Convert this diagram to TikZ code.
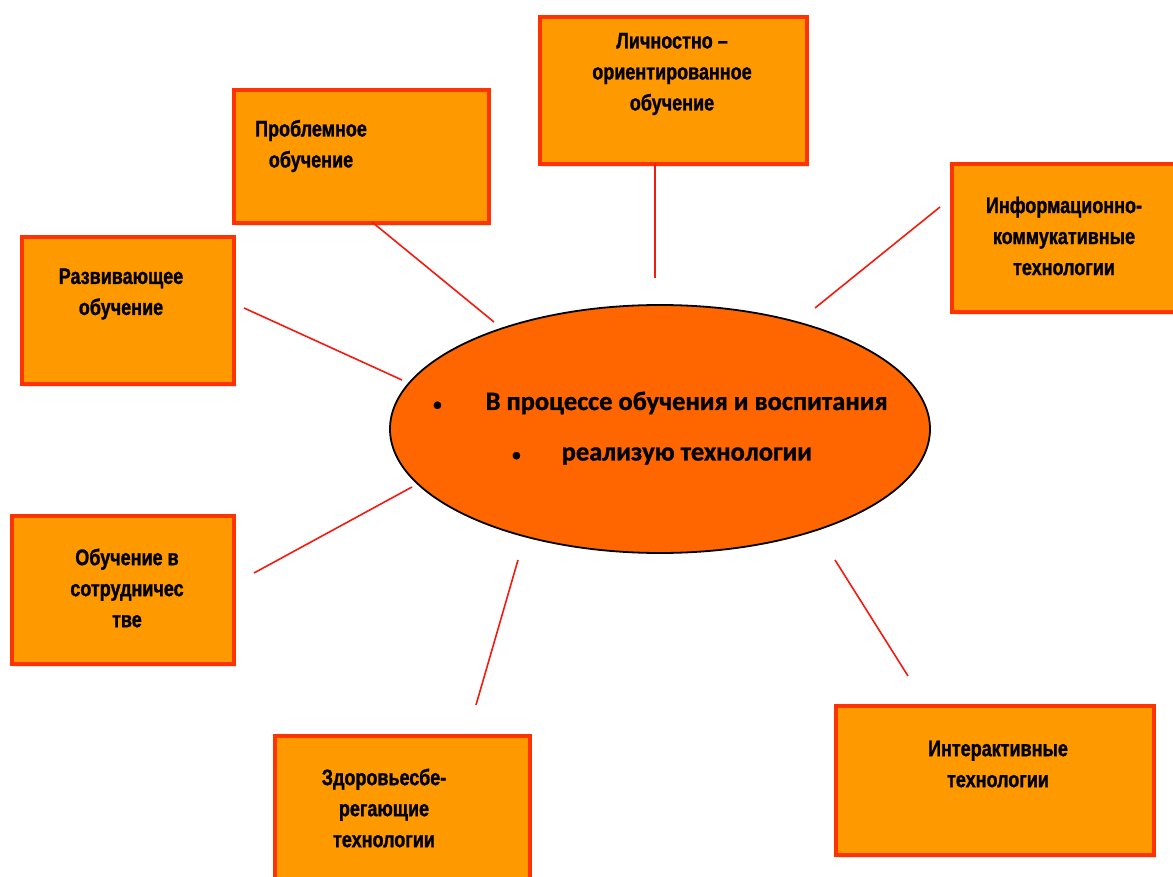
\documentclass[tikz,border=0pt]{standalone}
\usepackage{fontspec}
\usetikzlibrary{shapes.geometric,shadows}
\newfontfamily\boxfont[FakeStretch=0.8, BoldFeatures={FakeBold=1.2}]{Liberation Sans}
\newfontfamily\ellfont[BoldFeatures={FakeBold=1}]{Carlito}
\definecolor{boxfill}{HTML}{FF9900}
\definecolor{boxline}{HTML}{FF3300}
\definecolor{ellfill}{HTML}{FF6600}
\definecolor{conn}{HTML}{F41A10}
\tikzset{
  box/.style={draw=boxline, fill=boxfill, line width=4pt, anchor=north west, inner sep=0pt,
    drop shadow={shadow xshift=2pt, shadow yshift=-3pt, opacity=0.25}},
  boxtext/.style={align=center, inner sep=0pt, font=\boxfont\bfseries\fontsize{22.5}{31}\selectfont},
  elltext/.style={anchor=west, inner sep=0pt, font=\ellfont\bfseries\fontsize{26.5}{30}\selectfont},
  connector/.style={draw=conn, line width=1.6pt}
}
\newcommand{\smbul}{{\fontsize{17}{17}\selectfont•}}
\begin{document}
\begin{tikzpicture}[x=1pt,y=-1pt]
\useasboundingbox (0,0) rectangle (1173,877);
\clip (0,0) rectangle (1173,877);
% boxes
\node[box, minimum width=267pt, minimum height=147pt] (bL) at (538,15) {};
\node[box, minimum width=255pt, minimum height=133pt] (bP) at (232,88) {};
\node[box, minimum width=212pt, minimum height=147pt] (bR) at (20,235) {};
\node[box, minimum width=223pt, minimum height=148pt] (bI) at (950,162) {};
\node[box, minimum width=222pt, minimum height=148pt] (bO) at (10,514) {};
\node[box, minimum width=255pt, minimum height=160pt] (bZ) at (273,734) {};
\node[box, minimum width=318pt, minimum height=149pt] (bT) at (834,704) {};
% box texts
\node[boxtext] (tL) at (672,74) {Личностно –\\ориентированное\\обучение};
\node[boxtext] (tP) at (311,146) {Проблемное\\обучение};
\node[boxtext] (tR) at (121,294) {Развивающее\\обучение};
\node[boxtext] (tI) at (1064,236) {Информационно-\\коммукативные\\технологии};
\node[boxtext] (tO) at (127,588) {Обучение в\\сотрудничес\\тве};
\node[boxtext] (tZ) at (384,808) {Здоровьесбе-\\регающие\\технологии};
\node[boxtext] (tT) at (998,764) {Интерактивные\\технологии};
% ellipse
\node[ellipse, draw=black, line width=1.8pt, fill=ellfill, minimum width=540pt, minimum height=248pt, inner sep=0pt] (E) at (660,429) {};
\node[elltext] (e1) at (433,403) {\smbul\hspace{44pt}В процессе обучения и воспитания};
\node[elltext] (e2) at (512,456) {\smbul\hspace{41pt}реализую технологии};
% connector end points
\coordinate (cL1) at (655,163); \coordinate (cL2) at (655,278);
\coordinate (cP1) at (372,222); \coordinate (cP2) at (494,322);
\coordinate (cR1) at (244,308); \coordinate (cR2) at (402,380);
\coordinate (cI1) at (940,207); \coordinate (cI2) at (815,308);
\coordinate (cO1) at (254,573); \coordinate (cO2) at (412,487);
\coordinate (cZ1) at (476,705); \coordinate (cZ2) at (518,560);
\coordinate (cT1) at (908,676); \coordinate (cT2) at (835,560);
\draw[connector] (cL1) -- (cL2);
\draw[connector] (cP1) -- (cP2);
\draw[connector] (cR1) -- (cR2);
\draw[connector] (cI1) -- (cI2);
\draw[connector] (cO1) -- (cO2);
\draw[connector] (cZ1) -- (cZ2);
\draw[connector] (cT1) -- (cT2);
\end{tikzpicture}
\end{document}
